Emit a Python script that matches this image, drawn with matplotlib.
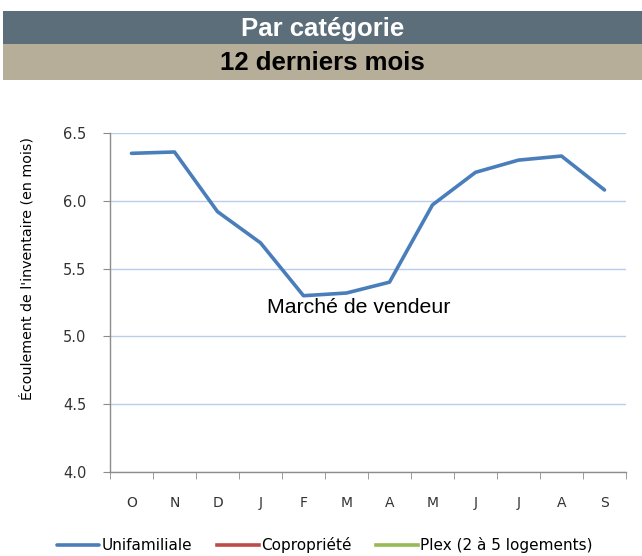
import matplotlib
matplotlib.use("Agg")
import matplotlib.pyplot as plt
from matplotlib.patches import Rectangle

months = ["O", "N", "D", "J", "F", "M", "A", "M", "J", "J", "A", "S"]
unifamiliale = [6.35, 6.36, 5.92, 5.69, 5.30, 5.32, 5.40, 5.97, 6.21, 6.30, 6.33, 6.08]
copropriete = []
plex = []
series_names = ["Unifamiliale", "Copropriété", "Plex (2 à 5 logements)"]
yticks = [4.0, 4.5, 5.0, 5.5, 6.0, 6.5]

W, H = 642, 556
fig = plt.figure(figsize=(W / 100, H / 100), dpi=100)

# header bars
fig.patches.append(Rectangle((3 / W, 1 - 44 / H), 1, 33 / H, transform=fig.transFigure,
                             facecolor="#5b6e7a", edgecolor="none", zorder=0))
fig.patches.append(Rectangle((3 / W, 1 - 80 / H), 1, 36 / H, transform=fig.transFigure,
                             facecolor="#b6ae98", edgecolor="none", zorder=0))
fig.text((3 + W) / 2 / W, 1 - 29 / H, "Par catégorie", ha="center", va="center",
         color="white", fontsize=18.5, fontweight="bold", family="Liberation Sans")
fig.text((3 + W) / 2 / W, 1 - 63 / H, "12 derniers mois", ha="center", va="center",
         color="black", fontsize=18.5, fontweight="bold", family="Liberation Sans")

ax = fig.add_axes([110 / W, (H - 472) / H, (626 - 110) / W, (472 - 133) / H])
x = list(range(len(months)))
l1, = ax.plot(x, unifamiliale, color="#4a7ebb", lw=2.6, solid_capstyle="round",
              solid_joinstyle="round", zorder=3)
l2, = ax.plot(x[:len(copropriete)], copropriete, color="#be4b48", lw=2.6)
l3, = ax.plot(x[:len(plex)], plex, color="#98b954", lw=2.6)

ax.set_xlim(-0.5, len(months) - 0.5)
ax.set_ylim(4.0, 6.5)
ax.set_yticks(yticks)
ax.set_yticklabels([f"{v:.1f}" for v in yticks], fontsize=10.5, color="#333333")
ax.set_xticks(x)
ax.set_xticklabels(months, fontsize=10, color="#333333")
ax.set_xticks([i - 0.5 for i in range(len(months) + 1)], minor=True)
ax.tick_params(axis="x", which="major", length=0, pad=17)
ax.tick_params(axis="x", which="minor", length=5, color="#8c8c8c", direction="out")
ax.tick_params(axis="y", length=5, color="#8c8c8c", direction="out", pad=12)
ax.grid(axis="y", color="#b9cdef", lw=1.0)
ax.set_axisbelow(True)
for s in ["top", "right"]:
    ax.spines[s].set_visible(False)
for s in ["left", "bottom"]:
    ax.spines[s].set_color("#8c8c8c")
    ax.spines[s].set_linewidth(1.0)

ax.set_ylabel("Écoulement de l'inventaire (en mois)", fontsize=10.3)
ax.yaxis.set_label_coords((35 - 110) / (626 - 110), (472 - 268) / (472 - 133))

ax.text(5.28, 5.21, "Marché de vendeur", ha="center", va="center", fontsize=15.3,
        family="Liberation Sans")

fig.legend([l1, l2, l3], series_names, loc="center", ncol=3,
           bbox_to_anchor=(0.506, (H - 545) / H), frameon=False, fontsize=11,
           handlelength=2.75, handletextpad=0.15, columnspacing=1.6,
           borderpad=0.0)

fig.savefig("out.png", dpi=100)
